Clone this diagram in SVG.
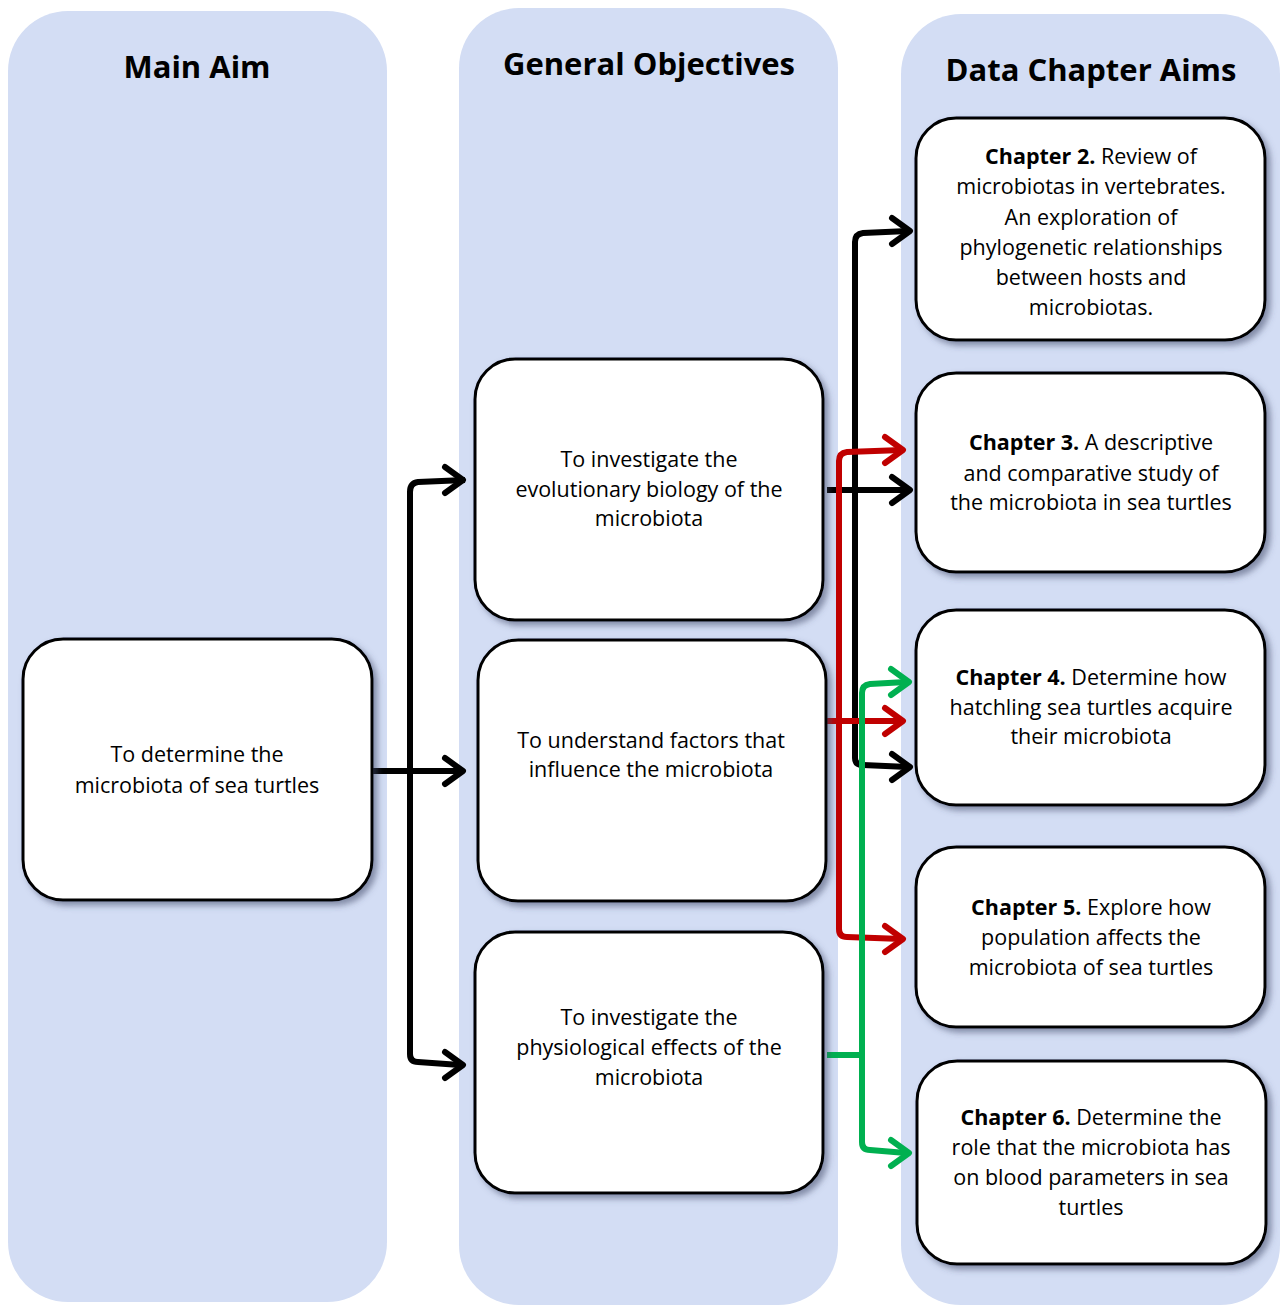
<svg xmlns="http://www.w3.org/2000/svg" width="1285" height="1307" viewBox="0 0 1285 1307">
<style>
.panel{fill:#d3ddf4}
.title{font-family:"Open Sans","Liberation Sans",sans-serif;font-weight:bold;font-size:31px;fill:#000;text-anchor:middle}
.box{fill:#fff;stroke:#000;stroke-width:3;filter:url(#sh)}
.t{font-family:"Open Sans","Liberation Sans",sans-serif;font-size:21.5px;fill:#000;text-anchor:middle}
.b{font-weight:bold}
.k{fill:none;stroke:#000;stroke-width:6;stroke-linejoin:round}
.r{fill:none;stroke:#c00000;stroke-width:6;stroke-linejoin:round}
.g{fill:none;stroke:#00b050;stroke-width:6;stroke-linejoin:round}
.hk{fill:none;stroke:#000;stroke-width:6;stroke-linecap:round;stroke-linejoin:round}
.hr{fill:none;stroke:#c00000;stroke-width:6;stroke-linecap:round;stroke-linejoin:round}
.hg{fill:none;stroke:#00b050;stroke-width:6;stroke-linecap:round;stroke-linejoin:round}
</style>
<defs>
<filter id="sh" x="-10%" y="-10%" width="125%" height="125%">
<feDropShadow dx="4" dy="4" stdDeviation="3" flood-color="#404a66" flood-opacity="0.55"/>
</filter>
</defs>
<rect width="1285" height="1307" fill="#fff"/>
<g id="panels">
<rect class="panel" x="8" y="11" width="379" height="1291" rx="60"/>
<rect class="panel" x="459" y="8" width="379" height="1297" rx="60"/>
<rect class="panel" x="901" y="14" width="379" height="1291" rx="60"/>
<text class="title" x="197" y="78">Main Aim</text>
<text class="title" x="649" y="75">General Objectives</text>
<text class="title" x="1091" y="81">Data Chapter Aims</text>
</g>
<g id="connectors">
<path class="k" d="M372,771 H458"/>
<path class="k" d="M465,480 L418,482 Q410,483 410,492 V1054 Q410,1062 418,1062 L460,1065"/>
<path class="hk" d="M445,467 L463,480 L445,493"/>
<path class="hk" d="M445,758 L463,771 L445,784"/>
<path class="hk" d="M445,1052 L463,1065 L445,1078"/>
<path class="k" d="M827,490 H908"/>
<path class="hk" d="M892,477 L910,490 L892,503"/>
<path class="k" d="M908,231 L863,233 Q855,234 855,242 V758 Q855,765 863,765 L908,767"/>
<path class="hk" d="M892,218 L910,231 L892,244"/>
<path class="hk" d="M892,754 L910,767 L892,780"/>
<path class="r" d="M827,721 H900"/>
<path class="hr" d="M885,708 L903,721 L885,734"/>
<path class="r" d="M902,450 L847,452 Q839,453 839,461 V929 Q839,937 847,937 L902,939"/>
<path class="hr" d="M885,437 L903,450 L885,463"/>
<path class="hr" d="M885,926 L903,939 L885,952"/>
<path class="g" d="M827,1055 H862"/>
<path class="g" d="M906,682 L870,684 Q862,685 862,693 V1142 Q862,1150 870,1150 L906,1153"/>
<path class="hg" d="M891,669 L909,682 L891,695"/>
<path class="hg" d="M891,1140 L909,1153 L891,1166"/>
</g>
<g id="main-aim">
<rect class="box" x="23" y="639" width="349" height="261" rx="40"/>
<text class="t" x="197" y="762">To determine the</text>
<text class="t" x="197" y="793">microbiota of sea turtles</text>
</g>
<g id="go1">
<rect class="box" x="475" y="359" width="348" height="261" rx="40"/>
<text class="t" x="649" y="467">To investigate the</text>
<text class="t" x="649" y="497">evolutionary biology of the</text>
<text class="t" x="649" y="526">microbiota</text>
</g>
<g id="go2">
<rect class="box" x="478" y="640" width="348" height="261" rx="40"/>
<text class="t" x="651" y="748">To understand factors that</text>
<text class="t" x="651" y="777">influence the microbiota</text>
</g>
<g id="go3">
<rect class="box" x="475" y="932" width="348" height="261" rx="40"/>
<text class="t" x="649" y="1025">To investigate the</text>
<text class="t" x="649" y="1055">physiological effects of the</text>
<text class="t" x="649" y="1085">microbiota</text>
</g>
<g id="ch2">
<rect class="box" x="916" y="118" width="349" height="222" rx="40"/>
<text class="t" x="1091" y="164"><tspan class="b">Chapter 2.</tspan> Review of</text>
<text class="t" x="1091" y="194">microbiotas in vertebrates.</text>
<text class="t" x="1091" y="225">An exploration of</text>
<text class="t" x="1091" y="255">phylogenetic relationships</text>
<text class="t" x="1091" y="285">between hosts and</text>
<text class="t" x="1091" y="315">microbiotas.</text>
</g>
<g id="ch3">
<rect class="box" x="916" y="373" width="349" height="199" rx="40"/>
<text class="t" x="1091" y="450"><tspan class="b">Chapter 3.</tspan> A descriptive</text>
<text class="t" x="1091" y="481">and comparative study of</text>
<text class="t" x="1091" y="510">the microbiota in sea turtles</text>
</g>
<g id="ch4">
<rect class="box" x="916" y="610" width="349" height="195" rx="40"/>
<text class="t" x="1091" y="685"><tspan class="b">Chapter 4.</tspan> Determine how</text>
<text class="t" x="1091" y="715">hatchling sea turtles acquire</text>
<text class="t" x="1091" y="744">their microbiota</text>
</g>
<g id="ch5">
<rect class="box" x="916" y="847" width="349" height="180" rx="40"/>
<text class="t" x="1091" y="915"><tspan class="b">Chapter 5.</tspan> Explore how</text>
<text class="t" x="1091" y="945">population affects the</text>
<text class="t" x="1091" y="975">microbiota of sea turtles</text>
</g>
<g id="ch6">
<rect class="box" x="917" y="1061" width="349" height="203" rx="40"/>
<text class="t" x="1091" y="1125"><tspan class="b">Chapter 6.</tspan> Determine the</text>
<text class="t" x="1091" y="1155">role that the microbiota has</text>
<text class="t" x="1091" y="1185">on blood parameters in sea</text>
<text class="t" x="1091" y="1215">turtles</text>
</g>
</svg>
